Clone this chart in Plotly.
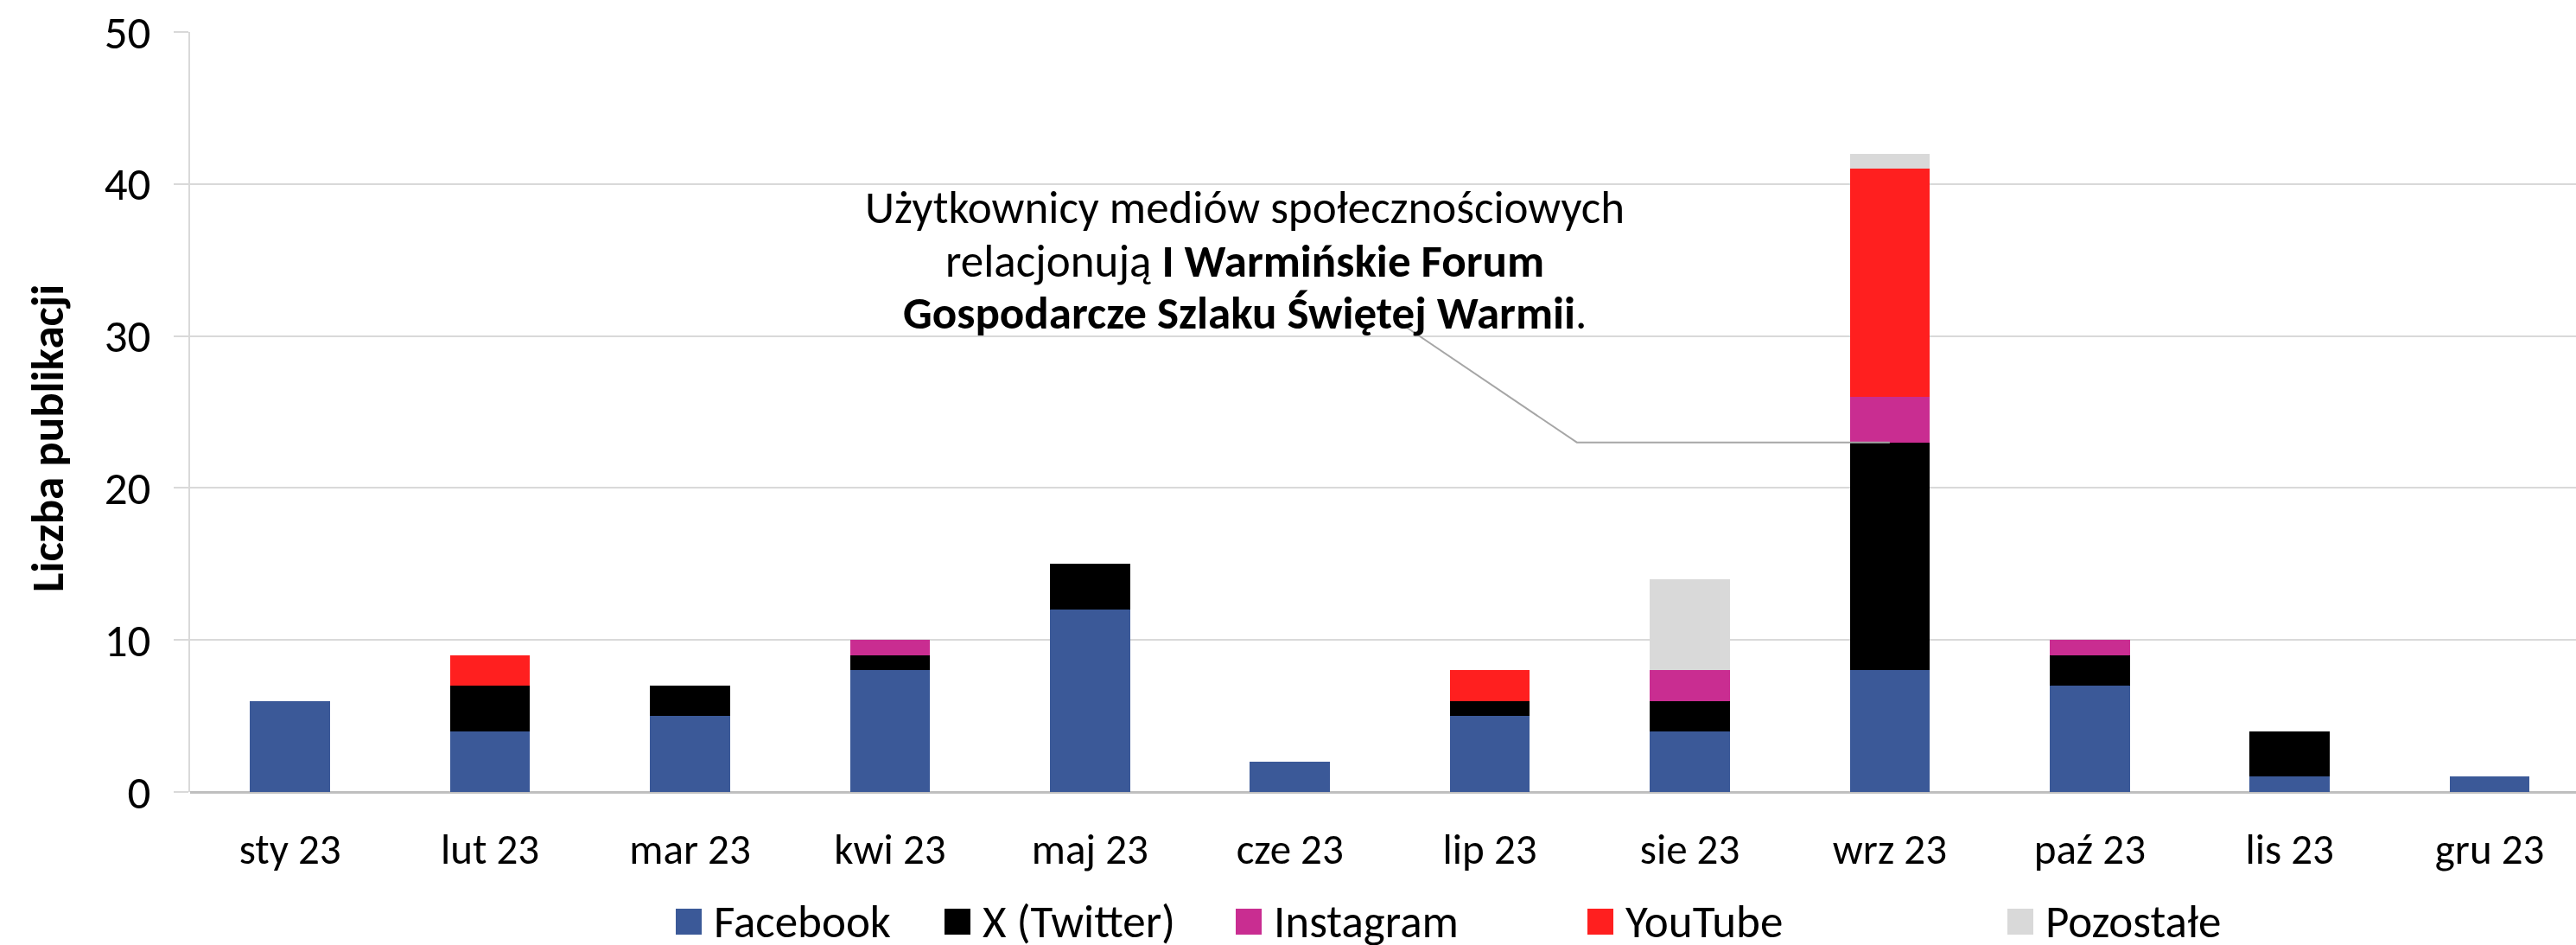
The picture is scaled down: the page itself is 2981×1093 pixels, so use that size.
import plotly.graph_objects as go

months = ["sty 23", "lut 23", "mar 23", "kwi 23", "maj 23", "cze 23",
          "lip 23", "sie 23", "wrz 23", "paź 23", "lis 23", "gru 23"]
facebook = [6, 4, 5, 8, 12, 2, 5, 4, 8, 7, 1, 1]
twitter = [0, 3, 2, 1, 3, 0, 1, 2, 15, 2, 3, 0]
instagram = [0, 0, 0, 1, 0, 0, 0, 2, 3, 1, 0, 0]
youtube = [0, 2, 0, 0, 0, 0, 2, 0, 15, 0, 0, 0]
pozostale = [0, 0, 0, 0, 0, 0, 0, 6, 1, 0, 0, 0]

series_names = ["Facebook", "X (Twitter)", "Instagram", "YouTube", "Pozostałe"]
series_values = [facebook, twitter, instagram, youtube, pozostale]
colors = ["#3B5998", "#000000", "#C92D91", "#FF1F1F", "#D9D9D9"]
yticks = [0, 10, 20, 30, 40, 50]
y_title = "Liczba publikacji"

annotation_lines = [
    "Użytkownicy mediów społecznościowych",
    "relacjonują <b>I Warmińskie Forum</b>",
    "<b>Gospodarcze Szlaku Świętej Warmii</b>.",
]

FONT = "Carlito, Calibri, Lato, sans-serif"
W, H = 2981, 1093
ML, MR, MT, MB = 220, 0, 37, 177
PW, PH = W - ML - MR, H - MT - MB
cat_px = 231.4  # pixel width of one category slot
unit_px = PH / 50.0

fig = go.Figure()
for name, vals, col in zip(series_names, series_values, colors):
    fig.add_trace(go.Bar(x=months, y=vals, name=name, marker_color=col,
                         marker_line_width=0, showlegend=False))

x_max = PW / cat_px - 0.5

# annotation with bent leader line pointing to top of X segment in wrz 23
idx = months.index("wrz 23")
target_y = facebook[idx] + twitter[idx]
fig.add_shape(type="path", xref="x", yref="y",
              path=f"M {idx},{target_y} L {idx - 1.565},{target_y} L {idx - 2.443},{30.8}",
              line=dict(color="#A6A6A6", width=2))
line_px = [240, 302, 362]
for txt, py in zip(annotation_lines, line_px):
    fig.add_annotation(
        x=idx - 3.225, y=(H - MB - py) / unit_px, xref="x", yref="y", showarrow=False,
        text=txt, align="center", yanchor="middle",
        font=dict(family=FONT, size=53, color="#000000"))

# y-axis title (placed as rotated text, slightly below axis centre as in original)
fig.add_annotation(x=(55 - ML) / PW, y=(H - MB - 507) / PH, xref="paper", yref="paper",
                   xanchor="center", yanchor="middle", textangle=-90, showarrow=False,
                   text=f"<b>{y_title}</b>",
                   font=dict(family=FONT, size=53, color="#000000"))

# legend drawn as squares + text (large squares as in original)
legend_px = [782, 1093, 1430, 1837, 2323]
sq = 30
leg_cy = 1066
for name, col, px in zip(series_names, colors, legend_px):
    fig.add_shape(type="rect", xref="paper", yref="paper",
                  x0=(px - ML) / PW, x1=(px + sq - ML) / PW,
                  y0=(H - MB - (leg_cy + sq / 2)) / PH, y1=(H - MB - (leg_cy - sq / 2)) / PH,
                  fillcolor=col, line_width=0)
    fig.add_annotation(x=(px + sq + 12 - ML) / PW, y=(H - MB - leg_cy) / PH,
                       xref="paper", yref="paper", xanchor="left", yanchor="middle",
                       showarrow=False, text=name,
                       font=dict(family=FONT, size=53, color="#000000"))

fig.update_layout(
    barmode="stack", bargap=0.6,
    width=W, height=H,
    margin=dict(l=ML, r=MR, t=MT, b=MB, autoexpand=False),
    paper_bgcolor="white", plot_bgcolor="white",
    font=dict(family=FONT, size=48, color="#000000"),
    showlegend=False,
)
fig.update_xaxes(range=[-0.5, x_max], showgrid=False, showline=False, ticks="",
                 tickfont=dict(family=FONT, size=49, color="#000000"),
                 ticklabelstandoff=33, automargin=False)
fig.update_yaxes(range=[0, 50], tickvals=yticks, showgrid=True, gridcolor="#D9D9D9",
                 gridwidth=2, zeroline=True, zerolinecolor="#BFBFBF", zerolinewidth=3,
                 showline=True, linecolor="#D9D9D9", linewidth=2,
                 ticks="outside", ticklen=17, tickcolor="#D9D9D9", tickwidth=2,
                 tickfont=dict(family=FONT, size=53, color="#000000"),
                 ticklabelstandoff=16, automargin=False)

fig.write_html("out.html",
               config={"displayModeBar": False},
               post_script="document.body.style.margin='0px';"
                           "document.body.style.overflow='hidden';")
